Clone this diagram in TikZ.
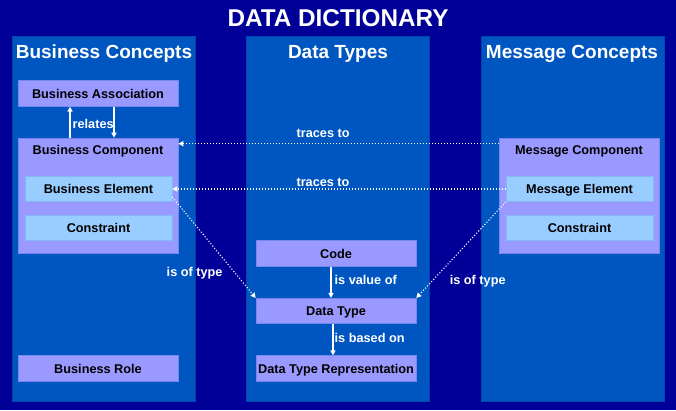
\documentclass[tikz,border=0pt]{standalone}
\usepackage{fontspec}
\setmainfont{Liberation Sans}
\usetikzlibrary{arrows.meta}
\definecolor{navy}{RGB}{0,0,153}
\definecolor{panelblue}{RGB}{0,86,192}
\definecolor{panelborder}{RGB}{0,70,172}
\definecolor{lavender}{RGB}{153,153,255}
\definecolor{lavborder}{RGB}{120,135,240}
\definecolor{lightblue}{RGB}{153,204,255}
\definecolor{lbborder}{RGB}{130,185,245}
\begin{document}
\begin{tikzpicture}[x=1pt,y=-1pt,
  panel/.style={draw=panelborder,fill=panelblue,line width=0.8pt,minimum width=183pt,minimum height=365pt,inner sep=0pt},
  ptitle/.style={text=white,font=\fontsize{19}{22}\selectfont\bfseries,anchor=base},
  box/.style={draw=lavborder,fill=lavender,line width=0.6pt,minimum width=160pt,minimum height=25.5pt,inner sep=0pt,
    font=\fontsize{12.7}{14}\selectfont\bfseries,text=black,text height=9.1pt,text depth=0pt},
  ibox/.style={box,draw=lbborder,fill=lightblue,minimum width=147pt},
  lbl/.style={text=white,font=\fontsize{12.7}{14}\selectfont\bfseries,text height=9.1pt,text depth=0pt,inner sep=0pt},
  sarrow/.style={draw=white,line width=1.4pt,-{Triangle[length=5pt,width=5pt]}},
  darrow/.style={draw=white,line width=1.1pt,dash pattern=on 1.1pt off 1.9pt,-{Triangle[length=5pt,width=5pt]}}
]
\fill[navy] (0,0) rectangle (676,410);
\useasboundingbox (0,0) rectangle (676,410);
\node[text=white,font=\fontsize{24.3}{28}\selectfont\bfseries,anchor=base] (title) at (338,26) {DATA DICTIONARY};
% panels
\node[panel,anchor=north west] (p1) at (12,36) {};
\node[panel,anchor=north west] (p2) at (246,36) {};
\node[panel,anchor=north west] (p3) at (481,36) {};
\node[ptitle] (t1) at (104,58) {Business Concepts};
\node[ptitle] (t2) at (338,58) {Data Types};
\node[ptitle] (t3) at (572,58) {Message Concepts};
% business concepts
\node[box] (ba) at (98,93.5) {Business Association};
\node[box,minimum height=115pt] (bc) at (98,195.5) {};
\node[lbl,text=black] (bcl) at (98,150) {Business Component};
\node[ibox] (be) at (98.5,189) {Business Element};
\node[ibox] (bcs) at (98.5,228) {Constraint};
\node[box] (br) at (98,368.5) {Business Role};
% data types
\node[box] (code) at (336,253.5) {Code};
\node[box] (dt) at (336,311) {Data Type};
\node[box] (dtr) at (336,368.5) {Data Type Representation};
% message concepts
\node[box,minimum height=115pt] (mc) at (579,195.5) {};
\node[lbl,text=black] (mcl) at (579,150) {Message Component};
\node[ibox] (me) at (579.5,189) {Message Element};
\node[ibox] (mcs) at (579.5,228) {Constraint};
% relates
\draw[sarrow] ([xshift=-28pt]bc.north) -- node[lbl,pos=0.44,anchor=west,xshift=2pt] (rel) {relates} ([xshift=-28pt]ba.south);
\draw[sarrow] ([xshift=16pt]ba.south) -- ([xshift=16pt]bc.north);
% data type arrows
\draw[sarrow] ([xshift=-5pt]code.south) -- node[lbl,pos=0.44,anchor=west,xshift=3pt] (ivo) {is value of} ([xshift=-5pt]dt.north);
\draw[sarrow] ([xshift=-3pt]dt.south) -- node[lbl,pos=0.44,anchor=west,xshift=1pt] (ibo) {is based on} ([xshift=-3pt]dtr.north);
% traces to
\draw[darrow] ([yshift=-6pt]mc.north west) -- node[lbl,pos=0.548,anchor=base,yshift=6pt] (tr1) {traces to} ([yshift=-6pt]bc.north east);
\draw[darrow] (me.west) -- node[lbl,pos=0.548,anchor=base,yshift=2.6pt] (tr2) {traces to} (be.east);
% is of type
\draw[darrow] ([yshift=5pt]be.south east) -- node[lbl,pos=0.74,anchor=east,xshift=-11pt] (iot1) {is of type} (dt.north west);
\draw[darrow] (me.south west) -- node[lbl,pos=0.81,anchor=west,xshift=16pt] (iot2) {is of type} (dt.north east);
\end{tikzpicture}
\end{document}
